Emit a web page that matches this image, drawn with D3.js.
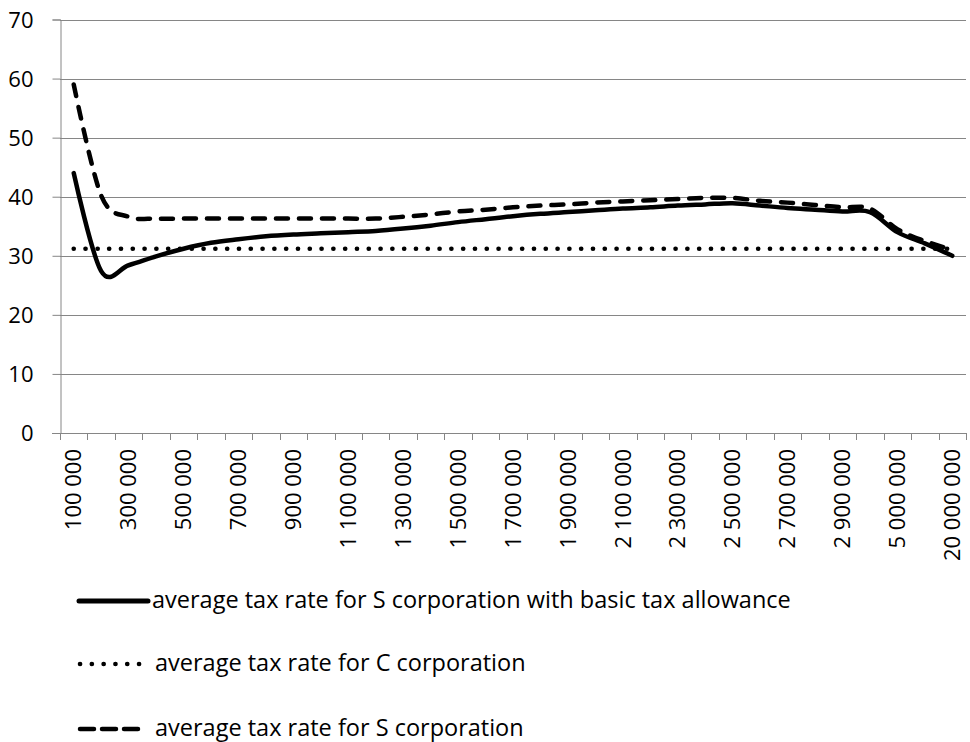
<!DOCTYPE html>
<html>
<head>
<meta charset="utf-8">
<script src="https://cdn.jsdelivr.net/npm/d3@7"></script>
<style>
  body { margin: 0; background: #fff; }
  svg text { font-family: "Open Sans", sans-serif; fill: #000; }
</style>
</head>
<body>
<svg id="chart" width="970" height="742"></svg>
<script>
/*************************Data********************* */
// incomes on the category axis (100 000 .. 3 000 000, then 5, 10, 20 million)
const incomes = [
  100000, 200000, 300000, 400000, 500000, 600000, 700000, 800000, 900000, 1000000,
  1100000, 1200000, 1300000, 1400000, 1500000, 1600000, 1700000, 1800000, 1900000, 2000000,
  2100000, 2200000, 2300000, 2400000, 2500000, 2600000, 2700000, 2800000, 2900000, 3000000,
  5000000, 10000000, 20000000
];
// average tax rate for S corporation with basic tax allowance
const sCorpAllowance = [
  44.0, 27.4, 28.4, 29.9, 31.2, 32.2, 32.8, 33.3, 33.6, 33.8,
  34.0, 34.2, 34.6, 35.1, 35.7, 36.2, 36.7, 37.1, 37.4, 37.7,
  38.0, 38.2, 38.5, 38.7, 38.9, 38.5, 38.1, 37.8, 37.5, 37.4,
  34.0, 32.1, 30.0
];
// average tax rate for C corporation
const cCorp = [
  31.2, 31.2, 31.2, 31.2, 31.2, 31.2, 31.2, 31.2, 31.2, 31.2,
  31.2, 31.2, 31.2, 31.2, 31.2, 31.2, 31.2, 31.2, 31.2, 31.2,
  31.2, 31.2, 31.2, 31.2, 31.2, 31.2, 31.2, 31.2, 31.2, 31.2,
  31.2, 31.2, 31.2
];
// average tax rate for S corporation
const sCorp = [
  59.0, 40.2, 36.6, 36.3, 36.3, 36.3, 36.3, 36.3, 36.3, 36.3,
  36.3, 36.3, 36.6, 37.0, 37.5, 37.8, 38.2, 38.5, 38.7, 39.0,
  39.2, 39.4, 39.6, 39.8, 39.8, 39.3, 39.0, 38.6, 38.2, 38.0,
  34.5, 32.5, 31.0
];
const yTicks = [0, 10, 20, 30, 40, 50, 60, 70];
const seriesNames = [
  "average tax rate for S corporation with basic tax allowance",
  "average tax rate for C corporation",
  "average tax rate for S corporation"
];

/*************************Scales********************* */
const svg = d3.select("svg#chart");
const plotLeft = 60, plotRight = 966, plotTop = 19.5, plotBottom = 433;
const gridColor = "#868686";

const fmt = (n) => d3.format(",")(n).replace(/,/g, " ");

const scaleX = d3.scaleBand().domain(incomes).range([plotLeft, plotRight]).padding(0);
const scaleY = d3.scaleLinear().domain([0, 70]).range([plotBottom, plotTop]);
const cx = (d) => scaleX(d) + scaleX.bandwidth() / 2;

/*************************Grid & Axes********************* */
svg.append("g").attr("class", "grid")
  .selectAll("line")
  .data(yTicks.filter((t) => t > 0))
  .join("line")
  .attr("x1", plotLeft).attr("x2", plotRight)
  .attr("y1", (d) => Math.round(scaleY(d)) + 0.5)
  .attr("y2", (d) => Math.round(scaleY(d)) + 0.5)
  .attr("stroke", gridColor).attr("stroke-width", 1);

const yAxis = d3.axisLeft(scaleY).tickValues(yTicks).tickSize(8).tickPadding(19);
const gy = svg.append("g").attr("class", "y-axis")
  .attr("transform", `translate(${plotLeft + 0.5},0)`)
  .call(yAxis);
gy.selectAll(".domain").attr("stroke", gridColor);
gy.selectAll(".tick line").attr("stroke", gridColor);
gy.selectAll(".tick text")
  .style("font-size", "22px")
  .style("font-family", "'Open Sans', sans-serif")
  .attr("dy", "0.35em");

// category axis: ticks between categories, labels on every second one
const gx = svg.append("g").attr("class", "x-axis");
gx.append("line")
  .attr("x1", plotLeft - 8).attr("x2", plotRight)
  .attr("y1", Math.round(plotBottom) + 0.5).attr("y2", Math.round(plotBottom) + 0.5)
  .attr("stroke", gridColor);
gx.selectAll("line.tick")
  .data(incomes.map((d) => scaleX(d)).concat([plotRight]))
  .join("line")
  .attr("class", "tick")
  .attr("x1", (d) => Math.round(d) + 0.5).attr("x2", (d) => Math.round(d) + 0.5)
  .attr("y1", plotBottom).attr("y2", plotBottom + 7)
  .attr("stroke", gridColor);
gx.selectAll("text")
  .data(incomes.filter((_, i) => i % 2 === 0))
  .join("text")
  .text((d) => fmt(d))
  .attr("text-anchor", "end")
  .attr("dy", "0.35em")
  .style("font-size", "22px")
  .attr("transform", (d) => `translate(${cx(d)},${plotBottom + 16}) rotate(-90)`);

/*************************Lines********************* */
const styles = [
  { values: sCorpAllowance, width: 4.5, dash: null, cap: "round" },
  { values: cCorp, width: 4.6, dash: "0.1,11.7", cap: "round" },
  { values: sCorp, width: 4.5, dash: "12,11", cap: "round" }
];

const line = d3.line()
  .x((d) => cx(d.x))
  .y((d) => scaleY(d.y))
  .curve(d3.curveCatmullRom.alpha(0));

svg.append("g").attr("class", "lines")
  .selectAll("path")
  .data(styles)
  .join("path")
  .attr("d", (s) => line(s.values.map((v, i) => ({ x: incomes[i], y: v }))))
  .attr("fill", "none")
  .attr("stroke", "#000")
  .attr("stroke-width", (s) => s.width)
  .attr("stroke-linecap", (s) => s.cap)
  .attr("stroke-linejoin", "round")
  .attr("stroke-dasharray", (s) => s.dash);

/*************************Legend********************* */
const legendRows = [
  { y: 601, x1: 79, x2: 148, tx: 152 },
  { y: 664, x1: 80, x2: 140, tx: 155 },
  { y: 729, x1: 80, x2: 140, tx: 155 }
];
const legend = svg.append("g").attr("class", "legend");
legendRows.forEach((r, i) => {
  legend.append("line")
    .attr("x1", r.x1).attr("x2", r.x2)
    .attr("y1", r.y).attr("y2", r.y)
    .attr("stroke", "#000")
    .attr("stroke-width", i === 0 ? 5 : styles[i].width)
    .attr("stroke-linecap", styles[i].cap)
    .attr("stroke-dasharray", i === 2 ? "14,8" : styles[i].dash);
  legend.append("text")
    .text(seriesNames[i])
    .attr("x", r.tx).attr("y", r.y + 6.5)
    .style("font-size", "23.5px");
});
</script>
</body>
</html>
